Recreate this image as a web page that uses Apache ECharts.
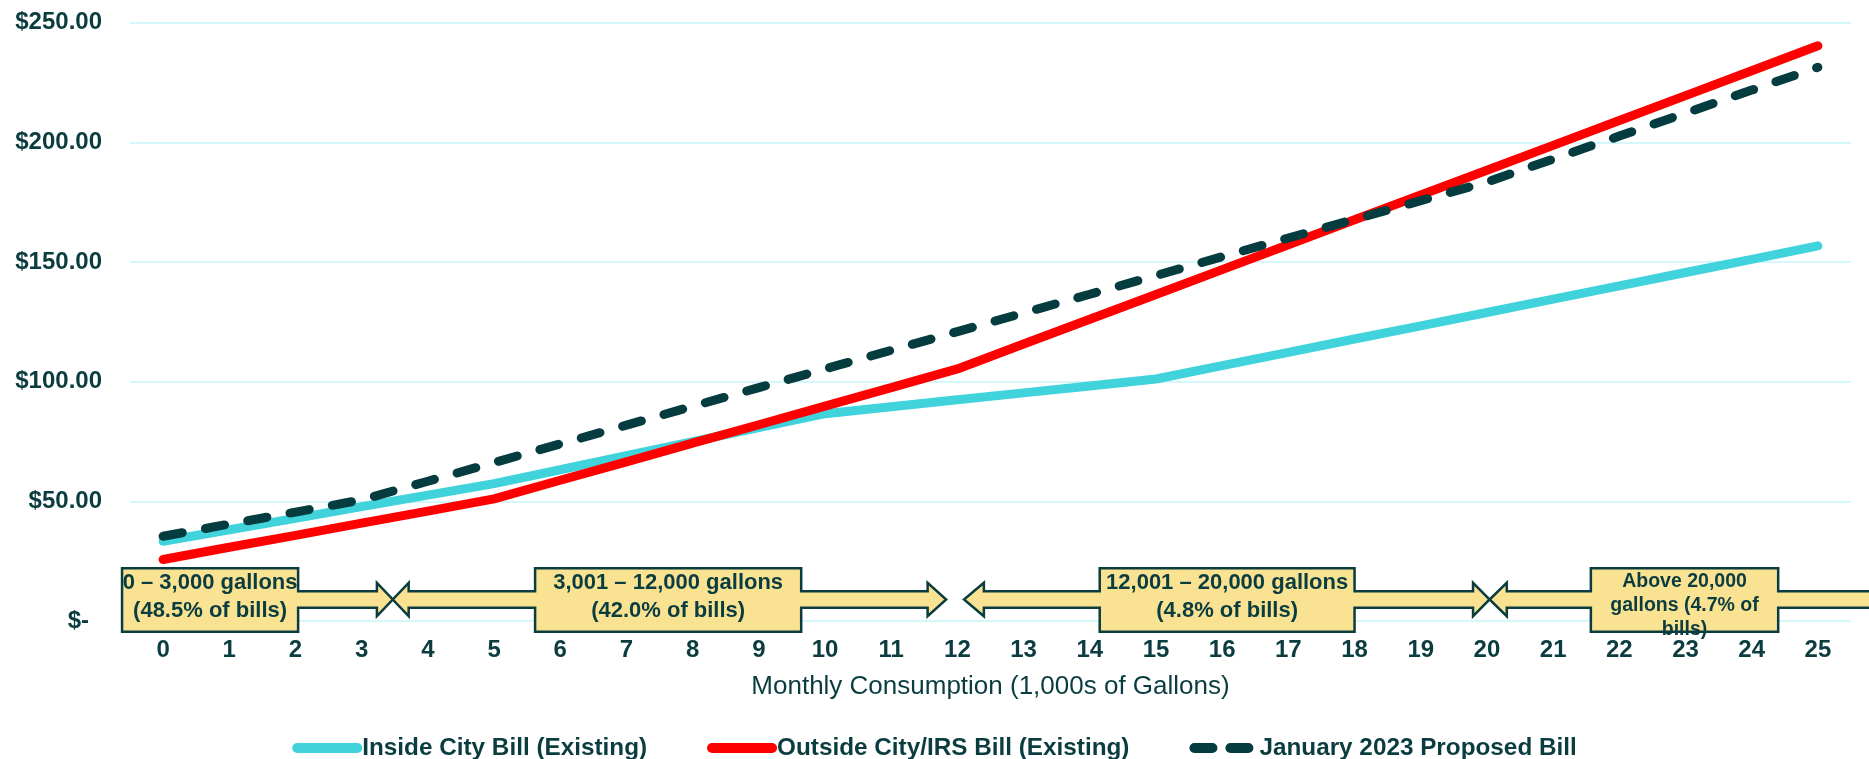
<!DOCTYPE html>
<html>
<head>
<meta charset="utf-8">
<script src="https://cdn.jsdelivr.net/npm/echarts@6/dist/echarts.min.js"></script>
<style>
html,body{margin:0;padding:0;background:#ffffff;}
#chart{width:1869px;height:759px;}
</style>
</head>
<body>
<div id="chart"></div>
<script>
// ---- data ----
const categories = ['0','1','2','3','4','5','6','7','8','9','10','11','12','13','14','15','16','17','18','19','20','21','22','23','24','25'];
const insideCityBill = [33.3,38.1,42.9,47.8,52.6,57.4,63.2,69.1,74.9,80.8,86.6,89.5,92.4,95.3,98.2,101.1,106.7,112.2,117.8,123.3,128.9,134.5,140.0,145.6,151.1,156.7];
const outsideCityBill = [25.7,30.8,35.8,40.9,45.9,51.0,58.8,66.5,74.3,82.0,89.8,97.5,105.3,115.7,126.1,136.4,146.8,157.2,167.6,178.0,188.3,198.7,209.1,219.5,229.9,240.3];
const proposedBill = [35.4,40.5,45.5,50.6,58.4,66.2,74.0,81.8,89.7,97.5,105.3,113.1,120.9,128.7,136.5,144.3,152.2,160.0,167.8,175.6,183.4,193.0,202.6,212.2,221.8,231.3];
const seriesNames = ['Inside City Bill (Existing)','Outside City/IRS Bill (Existing)','January 2023 Proposed Bill'];
const tierLabels = [
  '0 – 3,000 gallons\n(48.5% of bills)',
  '3,001 – 12,000 gallons\n(42.0% of bills)',
  '12,001 – 20,000 gallons\n(4.8% of bills)',
  'Above 20,000\ngallons (4.7% of\nbills)'
];
const xAxisTitle = 'Monthly Consumption (1,000s of Gallons)';

// ---- annotation layout (x in thousand-gallon units) ----
const tierArrows = [
  {lT:-0.62, lB:-0.62, bL:-0.62, bR:2.04,  rB:3.23,  rT:3.47},
  {lT:3.47,  lB:3.71,  bL:5.62,  bR:9.64,  rB:11.55, rT:11.83},
  {lT:12.10, lB:12.40, bL:14.15, bR:18.00, rB:19.79, rT:20.04},
  {lT:20.04, lB:20.30, bL:21.57, bR:24.40, rB:26.38, rT:26.65}
];
const tierText = [
  {size:22, lh:28, dy:-24.5},
  {size:22, lh:28, dy:-24.5},
  {size:22, lh:28, dy:-24.5},
  {size:19.5, lh:24, dy:-15.5}
];

const DARK = '#0a3c40';
const FONT = '"Liberation Sans", Arial, sans-serif';

const chart = echarts.init(document.getElementById('chart'), null, {renderer:'canvas'});

function renderArrow(params, api) {
  const a = tierArrows[params.dataIndex];
  const t = tierText[params.dataIndex];
  const y0 = api.coord([0, 0])[1];
  const px = v => api.coord([v, 0])[0];
  const lT = px(a.lT), lB = px(a.lB), bL = px(a.bL), bR = px(a.bR), rB = px(a.rB), rT = px(a.rT);
  const cy = y0 - 21.5, top = y0 - 52.7, bot = y0 + 10.7, sh = 8.35, hh = 16.7;
  const pts = [
    [bL, top], [bR, top], [bR, cy - sh], [rB, cy - sh], [rB, cy - hh], [rT, cy],
    [rB, cy + hh], [rB, cy + sh], [bR, cy + sh], [bR, bot], [bL, bot], [bL, cy + sh],
    [lB, cy + sh], [lB, cy + hh], [lT, cy], [lB, cy - hh], [lB, cy - sh], [bL, cy - sh]
  ];
  return {
    type: 'group',
    children: [
      {type:'polygon', shape:{points:pts}, style:{fill:'#f9e392', stroke:DARK, lineWidth:2.5, lineJoin:'miter'}},
      {type:'text', style:{
        text: tierLabels[params.dataIndex], x:(bL + bR) / 2, y: y0 + t.dy,
        align:'center', verticalAlign:'middle', textAlign:'center', textVerticalAlign:'middle',
        font: 'bold ' + t.size + 'px ' + FONT, lineHeight: t.lh, fill: DARK
      }}
    ]
  };
}

const lineCommon = {type:'line', symbol:'none', smooth:false, xAxisIndex:0, yAxisIndex:0};

chart.setOption({
  animation: false,
  backgroundColor: '#ffffff',
  grid: {left:130, right:18, top:22.6, bottom:138, containLabel:false},
  legend: {
    data: [
      {name: seriesNames[0]},
      {name: seriesNames[1]},
      {name: seriesNames[2], lineStyle:{type:[18,18]}}
    ],
    top: 731, left: 'center',
    itemWidth: 60, itemHeight: 10, itemGap: 60,
    lineStyle: {width: 10, cap: 'round'},
    itemStyle: {opacity: 0},
    textStyle: {fontFamily: FONT, fontWeight: 'bold', fontSize: 24.3, color: DARK, lineHeight: 24},
    selectedMode: false
  },
  xAxis: [
    {
      type: 'category', data: categories, boundaryGap: true,
      axisLine: {show:false}, axisTick: {show:false}, splitLine: {show:false},
      axisLabel: {fontFamily: FONT, fontWeight: 'bold', fontSize: 24, color: DARK, margin: 17, interval: 0},
      name: xAxisTitle, nameLocation: 'middle', nameGap: 53,
      nameTextStyle: {fontFamily: FONT, fontSize: 26, color: DARK}
    },
    {type: 'value', min: -0.5, max: 25.5, show: false}
  ],
  yAxis: {
    type: 'value', min: 0, max: 250, interval: 50,
    axisLine: {show:false}, axisTick: {show:false},
    splitLine: {show:true, lineStyle: {color:'#c4f5f9', width:1.5}},
    axisLabel: {
      fontFamily: FONT, fontWeight: 'bold', fontSize: 24, color: DARK, margin: 28,
      formatter: v => v === 0 ? '{z|$-}' : '$' + v.toFixed(2),
      rich: {z: {fontFamily: FONT, fontWeight: 'bold', fontSize: 24, color: DARK, padding: [0, 13, 0, 0]}}
    }
  },
  series: [
    Object.assign({}, lineCommon, {name: seriesNames[0], data: insideCityBill, z: 2,
      lineStyle: {color:'#41d3dc', width:9, cap:'round', join:'round'}, itemStyle:{color:'#41d3dc'}}),
    Object.assign({}, lineCommon, {name: seriesNames[1], data: outsideCityBill, z: 3,
      lineStyle: {color:'#ff0000', width:9, cap:'round', join:'round'}, itemStyle:{color:'#ff0000'}}),
    Object.assign({}, lineCommon, {name: seriesNames[2], data: proposedBill, z: 4,
      lineStyle: {color:'#043c3f', width:9, type:[19.5,23.5], cap:'round', join:'round'}, itemStyle:{color:'#043c3f'}}),
    {
      type: 'custom', name: 'tiers', xAxisIndex: 1, yAxisIndex: 0, clip: false, silent: true, z: 5,
      renderItem: renderArrow,
      data: tierArrows.map((a, i) => [a.bL, 0, i])
    }
  ]
});
</script>
</body>
</html>
